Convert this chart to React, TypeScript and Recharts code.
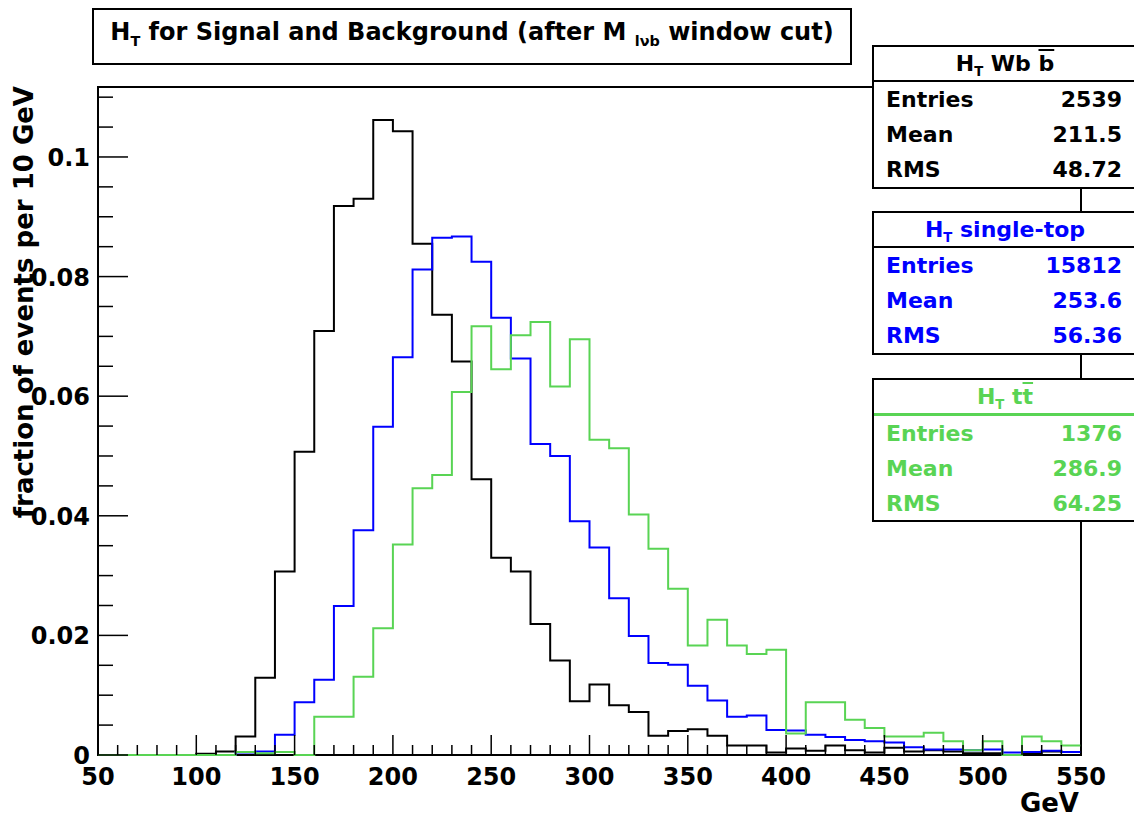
import React from 'react'
import { ComposedChart, Line, XAxis, YAxis, ReferenceArea } from 'recharts'

const FONT = '"DejaVu Sans", "Liberation Sans", sans-serif'
const BLUE = '#0000ff'
const GREEN = '#59d454'
const Y_MAX = 0.1117

// lower bin edges (10 GeV bins), last entry closes the final bin
const binEdges = [
  50, 60, 70, 80, 90, 100, 110, 120, 130, 140, 150, 160, 170, 180, 190, 200, 210, 220, 230, 240,
  250, 260, 270, 280, 290, 300, 310, 320, 330, 340, 350, 360, 370, 380, 390, 400, 410, 420, 430, 440,
  450, 460, 470, 480, 490, 500, 510, 520, 530, 540, 550,
]

// H_T Wbb (black)
const wbb = [
  0, 0, 0, 0, 0, 0.0002, 0.0006, 0.0031, 0.0129, 0.0307,
  0.0507, 0.0709, 0.0918, 0.093, 0.1062, 0.1043, 0.0855, 0.0736, 0.0658, 0.0461,
  0.033, 0.0307, 0.0219, 0.0158, 0.009, 0.0118, 0.0083, 0.0072, 0.0032, 0.004,
  0.0043, 0.0032, 0.0016, 0.0016, 0.0004, 0.0011, 0.0007, 0.0016, 0.0008, 0.0004,
  0.0012, 0.0006, 0.0008, 0.0006, 0.0003, 0.0003, 0, 0.0003, 0.0006, 0.0005,
]

// H_T single-top (blue)
const singleTop = [
  0, 0, 0, 0, 0, 0, 0, 0.0004, 0.0006, 0.0034,
  0.0088, 0.0126, 0.0249, 0.0376, 0.0549, 0.0665, 0.0812, 0.0865, 0.0867, 0.0825,
  0.0731, 0.0663, 0.052, 0.05, 0.0391, 0.0347, 0.0262, 0.0199, 0.0154, 0.0151,
  0.0116, 0.0091, 0.0064, 0.0066, 0.0042, 0.0041, 0.0034, 0.003, 0.0025, 0.0023,
  0.0021, 0.0013, 0.0009, 0.0009, 0.0008, 0.0009, 0.0004, 0.0005, 0.0007, 0.0005,
]

// H_T ttbar (green)
const ttbar = [
  0, 0, 0, 0, 0, 0, 0, 0.0005, 0.0003, 0.0005,
  0, 0.0064, 0.0064, 0.0131, 0.0212, 0.0352, 0.0446, 0.0468, 0.0607, 0.0717,
  0.0645, 0.0702, 0.0724, 0.0616, 0.0695, 0.0527, 0.0513, 0.0402, 0.0345, 0.0278,
  0.0183, 0.0226, 0.0183, 0.0169, 0.0176, 0.0036, 0.0088, 0.0088, 0.0059, 0.0045,
  0.0031, 0.0031, 0.0037, 0.0023, 0.0008, 0.0023, 0, 0.0031, 0.0023, 0.0016,
]

const xTicks = binEdges
const yTicks = [
  0, 0.005, 0.01, 0.015, 0.02, 0.025, 0.03, 0.035, 0.04, 0.045, 0.05, 0.055,
  0.06, 0.065, 0.07, 0.075, 0.08, 0.085, 0.09, 0.095, 0.1, 0.105, 0.11,
]

const statLabels = ['Entries', 'Mean', 'RMS']
const wbbStats = ['2539', '211.5', '48.72']
const singleTopStats = ['15812', '253.6', '56.36']
const ttbarStats = ['1376', '286.9', '64.25']

const data = binEdges.map((x, i) => {
  const j = Math.min(i, wbb.length - 1)
  return { x, wbb: wbb[j], st: singleTop[j], tt: ttbar[j] }
})

function XTick(props: any) {
  const { x, y, payload } = props
  const major = payload.value % 50 === 0
  return (
    <g>
      <line x1={x} x2={x} y1={y} y2={y - (major ? 20 : 10)} stroke="#000" strokeWidth={1.5} />
      {major && (
        <text x={x} y={y + 30} textAnchor="middle" fontFamily={FONT} fontWeight="bold" fontSize={24} fill="#000">
          {payload.value}
        </text>
      )}
    </g>
  )
}

function YTick(props: any) {
  const { x, y, payload } = props
  const v = payload.value
  const major = Math.round(v * 1000) % 20 === 0
  return (
    <g>
      <line x1={x} x2={x + (major ? 30 : 15)} y1={y} y2={y} stroke="#000" strokeWidth={1.5} />
      {major && (
        <text x={x - 8} y={y + 9} textAnchor="end" fontFamily={FONT} fontWeight="bold" fontSize={24} fill="#000">
          {String(Number(v.toFixed(3)))}
        </text>
      )}
    </g>
  )
}

function Sub({ children }: { children: React.ReactNode }) {
  return <span style={{ fontSize: '0.6em', position: 'relative', top: '0.4em' }}>{children}</span>
}

function StatBox({
  top,
  color,
  title,
  values,
  divider,
}: {
  top: number
  color: string
  title: React.ReactNode
  values: string[]
  divider: string
}) {
  return (
    <div
      style={{
        position: 'absolute',
        left: 872,
        top,
        width: 266,
        height: 144,
        boxSizing: 'border-box',
        border: '2px solid #000',
        background: '#fff',
        fontFamily: FONT,
        fontWeight: 'bold',
        fontSize: 22,
        color,
      }}
    >
      <div style={{ height: 33, lineHeight: '33px', textAlign: 'center', borderBottom: divider, whiteSpace: 'nowrap' }}>
        {title}
      </div>
      {statLabels.map((label, i) => (
        <div
          key={label}
          style={{
            height: 35,
            lineHeight: '35px',
            display: 'flex',
            justifyContent: 'space-between',
            paddingLeft: 12,
            paddingRight: 14,
          }}
        >
          <span>{label}</span>
          <span>{values[i]}</span>
        </div>
      ))}
    </div>
  )
}

export default function App() {
  return (
    <div style={{ position: 'absolute', left: 0, top: 0, width: 1134, height: 819, overflow: 'hidden', background: '#fff' }}>
      <ComposedChart width={1134} height={819} data={data} margin={{ top: 87, right: 53, left: 0, bottom: 0 }}>
        <XAxis
          dataKey="x"
          type="number"
          domain={[50, 550]}
          ticks={xTicks}
          interval={0}
          height={64}
          axisLine={false}
          tickLine={false}
          tickSize={0}
          tickMargin={0}
          tick={<XTick />}
        />
        <YAxis
          type="number"
          domain={[0, Y_MAX]}
          ticks={yTicks}
          interval={0}
          width={98}
          axisLine={false}
          tickLine={false}
          tickSize={0}
          tickMargin={0}
          tick={<YTick />}
        />
        <ReferenceArea x1={50} x2={550} y1={0} y2={Y_MAX} fill="none" stroke="#000" strokeWidth={2} />
        <Line type="stepAfter" dataKey="wbb" stroke="#000" strokeWidth={2} dot={false} activeDot={false} isAnimationActive={false} />
        <Line type="stepAfter" dataKey="st" stroke={BLUE} strokeWidth={2} dot={false} activeDot={false} isAnimationActive={false} />
        <Line type="stepAfter" dataKey="tt" stroke={GREEN} strokeWidth={2} dot={false} activeDot={false} isAnimationActive={false} />
      </ComposedChart>

      <svg width={1134} height={819} style={{ position: 'absolute', left: 0, top: 0, pointerEvents: 'none' }}>
        <text
          transform="translate(33,86) rotate(-90)"
          textAnchor="end"
          fontFamily={FONT}
          fontWeight="bold"
          fontSize={26}
          fill="#000"
        >
          fraction of events per 10 GeV
        </text>
        <text x={1079} y={812} textAnchor="end" fontFamily={FONT} fontWeight="bold" fontSize={26} fill="#000">
          GeV
        </text>
      </svg>

      <div
        style={{
          position: 'absolute',
          left: 92,
          top: 8,
          width: 760,
          height: 57,
          boxSizing: 'border-box',
          border: '2px solid #000',
          background: '#fff',
          fontFamily: FONT,
          fontWeight: 'bold',
          fontSize: 24,
          textAlign: 'center',
          lineHeight: '44px',
          whiteSpace: 'nowrap',
        }}
      >
        H<Sub>T</Sub> for Signal and Background (after M <Sub>lνb</Sub> window cut)
      </div>

      <StatBox
        top={45}
        color="#000"
        divider="2px solid #000"
        values={wbbStats}
        title={
          <span>
            H<Sub>T</Sub> Wb <span style={{ textDecoration: 'overline' }}>b</span>
          </span>
        }
      />
      <StatBox
        top={211}
        color={BLUE}
        divider="2px solid #000"
        values={singleTopStats}
        title={
          <span>
            H<Sub>T</Sub> single-top
          </span>
        }
      />
      <StatBox
        top={378}
        color={GREEN}
        divider={`3px solid ${GREEN}`}
        values={ttbarStats}
        title={
          <span>
            H<Sub>T</Sub> t<span style={{ textDecoration: 'overline' }}>t</span>
          </span>
        }
      />
    </div>
  )
}
